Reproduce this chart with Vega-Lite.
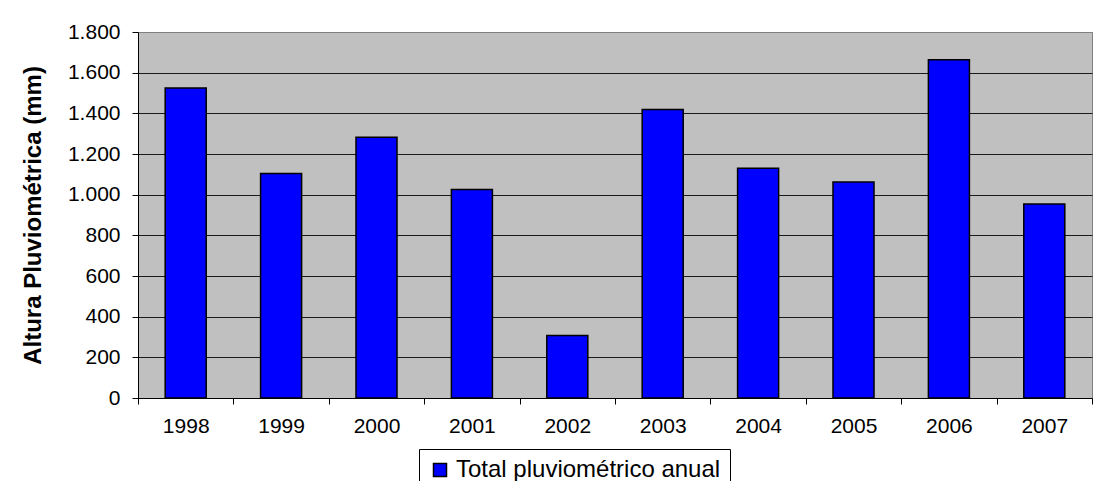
{
  "$schema": "https://vega.github.io/schema/vega-lite/v6.json",
  "width": 954,
  "height": 366,
  "autosize": {"type": "none"},
  "padding": {"left": 138, "top": 32, "right": 2, "bottom": 83},
  "background": "white",
  "data": {
    "values": [
      {"ano": "1998", "valor": 1525, "serie": "Total pluviométrico anual"},
      {"ano": "1999", "valor": 1104, "serie": "Total pluviométrico anual"},
      {"ano": "2000", "valor": 1282, "serie": "Total pluviométrico anual"},
      {"ano": "2001", "valor": 1025, "serie": "Total pluviométrico anual"},
      {"ano": "2002", "valor": 307, "serie": "Total pluviométrico anual"},
      {"ano": "2003", "valor": 1419, "serie": "Total pluviométrico anual"},
      {"ano": "2004", "valor": 1130, "serie": "Total pluviométrico anual"},
      {"ano": "2005", "valor": 1062, "serie": "Total pluviométrico anual"},
      {"ano": "2006", "valor": 1663, "serie": "Total pluviométrico anual"},
      {"ano": "2007", "valor": 954, "serie": "Total pluviométrico anual"}
    ]
  },
  "mark": {"type": "bar", "width": {"band": 0.43}, "stroke": "#000000", "strokeWidth": 1.5},
  "encoding": {
    "x": {
      "field": "ano",
      "type": "ordinal",
      "scale": {"paddingInner": 0, "paddingOuter": 0},
      "axis": {
        "title": null,
        "labelAngle": 0,
        "tickBand": "extent",
        "tickSize": 6,
        "tickColor": "#000000",
        "domainColor": "#000000",
        "labelFontSize": 21,
        "labelPadding": 11,
        "grid": false
      }
    },
    "y": {
      "field": "valor",
      "type": "quantitative",
      "scale": {"domain": [0, 1800], "nice": false},
      "axis": {
        "title": "Altura Pluviométrica (mm)",
        "values": [0, 200, 400, 600, 800, 1000, 1200, 1400, 1600, 1800],
        "format": ",d",
        "tickSize": 6,
        "tickColor": "#000000",
        "domainColor": "#000000",
        "labelFontSize": 21,
        "labelPadding": 12,
        "titleFontSize": 24,
        "titleFontWeight": "bold",
        "titlePadding": 22,
        "grid": true,
        "gridColor": {"condition": {"test": "datum.value >= 1800", "value": "#808080"}, "value": "#1a1a1a"},
        "gridWidth": 1,
        "gridOpacity": 1
      }
    },
    "color": {
      "field": "serie",
      "type": "nominal",
      "scale": {"range": ["#0000FF"]},
      "legend": {
        "title": null,
        "orient": "none",
        "legendX": 281,
        "legendY": 417,
        "strokeColor": "#000000",
        "padding": 9,
        "symbolType": "square",
        "symbolSize": 169,
        "symbolStrokeColor": "#000000",
        "symbolStrokeWidth": 1.5,
        "symbolOpacity": 1,
        "labelFontSize": 24,
        "labelOffset": 4,
        "labelColor": "#000000",
        "labelLimit": 400
      }
    }
  },
  "config": {
    "locale": {"number": {"decimal": ",", "thousands": ".", "grouping": [3], "currency": ["R$", ""]}},
    "font": "Liberation Sans",
    "view": {"fill": "#C0C0C0", "stroke": "#808080", "strokeWidth": 1},
    "axis": {"labelColor": "#000000", "titleColor": "#000000", "labelFont": "Liberation Sans", "titleFont": "Liberation Sans"},
    "legend": {"labelFont": "Liberation Sans"}
  }
}
